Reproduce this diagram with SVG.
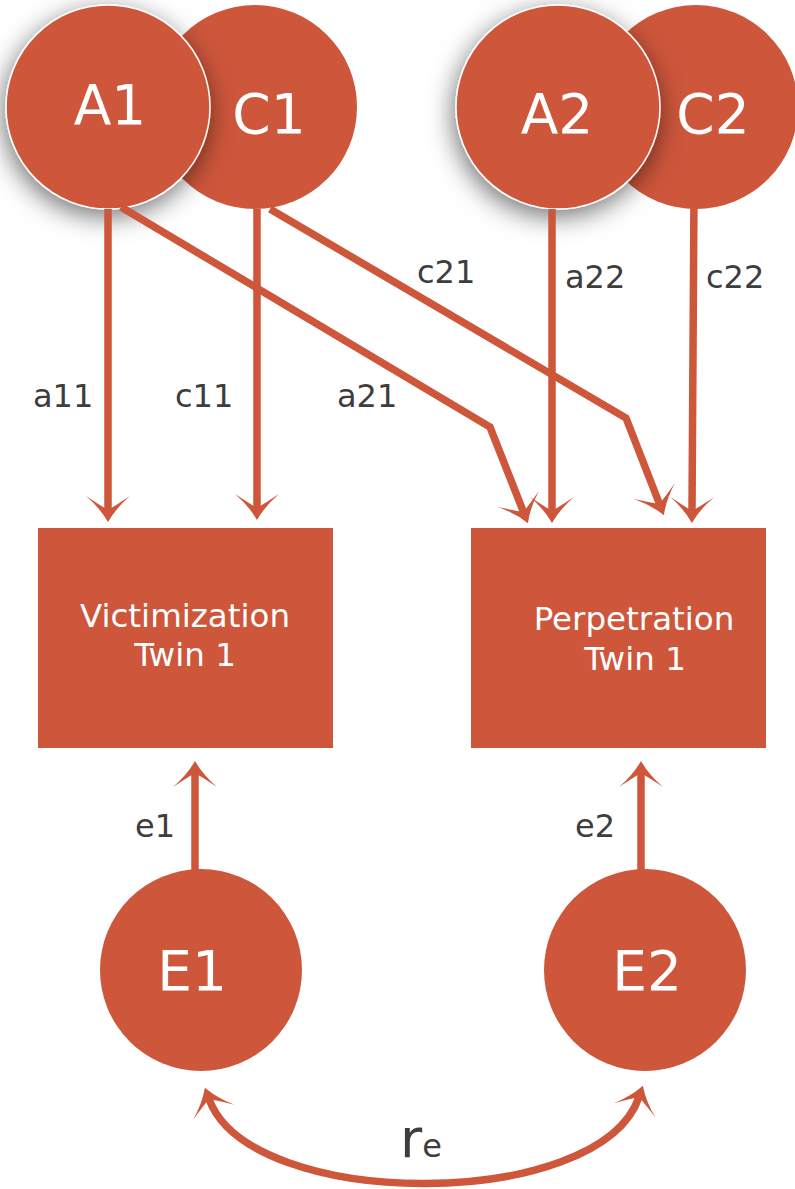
<svg xmlns="http://www.w3.org/2000/svg" width="795" height="1189" viewBox="0 0 795 1189">
  <style>
    .node { fill: #CD563B; }
    .ring { fill: #CD563B; stroke: #ffffff; stroke-width: 1.5; }
    .big { font-family: "DejaVu Sans", Verdana, sans-serif; font-size: 55px; fill: #ffffff; text-anchor: middle; }
    .box { font-family: "DejaVu Sans", Verdana, sans-serif; font-size: 32.5px; fill: #ffffff; text-anchor: middle; }
    .lbl { font-family: "DejaVu Sans", Verdana, sans-serif; font-size: 32px; fill: #3d3d3d; }
    .conn { fill: none; stroke: #CD563B; stroke-width: 7.5; stroke-linejoin: miter; }
  </style>
  <defs>
    <filter id="shadow" x="-50%" y="-50%" width="200%" height="200%">
      <feDropShadow dx="-2" dy="7" stdDeviation="13" flood-color="#000000" flood-opacity="0.55"/>
    </filter>
    <marker id="arrow" markerUnits="userSpaceOnUse" orient="auto-start-reverse" refX="-12" refY="0" markerWidth="60" markerHeight="60" overflow="visible">
      <path d="M0,0 Q-14,-8 -26,-22 Q-18,-10 -12,0 Q-18,10 -26,22 Q-14,8 0,0 Z" fill="#CD563B"/>
    </marker>
  </defs>

  <g id="C1"><circle class="node" cx="255" cy="107" r="102"/><text class="big" x="269" y="133">C1</text></g>
  <g id="A1"><circle class="ring" cx="108" cy="107" r="102" filter="url(#shadow)"/><text class="big" x="110" y="124">A1</text></g>
  <g id="C2"><circle class="node" cx="696" cy="107" r="102"/><text class="big" x="713" y="133">C2</text></g>
  <g id="A2"><circle class="ring" cx="558" cy="107" r="102" filter="url(#shadow)"/><text class="big" x="557" y="133">A2</text></g>

  <g id="Victimization"><rect class="node" x="38" y="528" width="295" height="220"/><text class="box" x="185" y="627">Victimization</text><text class="box" x="185" y="666">Twin 1</text></g>
  <g id="Perpetration"><rect class="node" x="471" y="528" width="295" height="220"/><text class="box" x="634" y="630">Perpetration</text><text class="box" x="635" y="670">Twin 1</text></g>

  <g id="E1"><circle class="node" cx="201" cy="970" r="101"/><text class="big" x="192" y="990">E1</text></g>
  <g id="E2"><circle class="node" cx="645" cy="970" r="101"/><text class="big" x="647" y="990">E2</text></g>

  <g id="connectors">
    <path class="conn" d="M108,209 L108,510" marker-end="url(#arrow)"/>
    <path class="conn" d="M257,209 L257,508" marker-end="url(#arrow)"/>
    <path class="conn" d="M121,207 L490,427 L523.5,512" marker-end="url(#arrow)"/>
    <path class="conn" d="M270,209 L626,418 L659.5,504" marker-end="url(#arrow)"/>
    <path class="conn" d="M552,209 L552,511" marker-end="url(#arrow)"/>
    <path class="conn" d="M694,195 L692,511" marker-end="url(#arrow)"/>
    <path class="conn" d="M195,870 L195,773" marker-end="url(#arrow)"/>
    <path class="conn" d="M641,870 L641,773" marker-end="url(#arrow)"/>
    <path class="conn" d="M209,1099 C250,1212 600,1212 639,1097" marker-start="url(#arrow)" marker-end="url(#arrow)"/>
  </g>

  <g id="labels">
    <text class="lbl" x="33" y="407">a11</text>
    <text class="lbl" x="175" y="407">c11</text>
    <text class="lbl" x="337" y="407">a21</text>
    <text class="lbl" x="417" y="283">c21</text>
    <text class="lbl" x="565" y="288">a22</text>
    <text class="lbl" x="706" y="288">c22</text>
    <text class="lbl" x="135" y="837">e1</text>
    <text class="lbl" x="575" y="837">e2</text>
    <text x="400" y="1157" font-family="DejaVu Sans, Verdana, sans-serif" font-size="54" fill="#3d3d3d">r<tspan font-size="32">e</tspan></text>
  </g>
</svg>
